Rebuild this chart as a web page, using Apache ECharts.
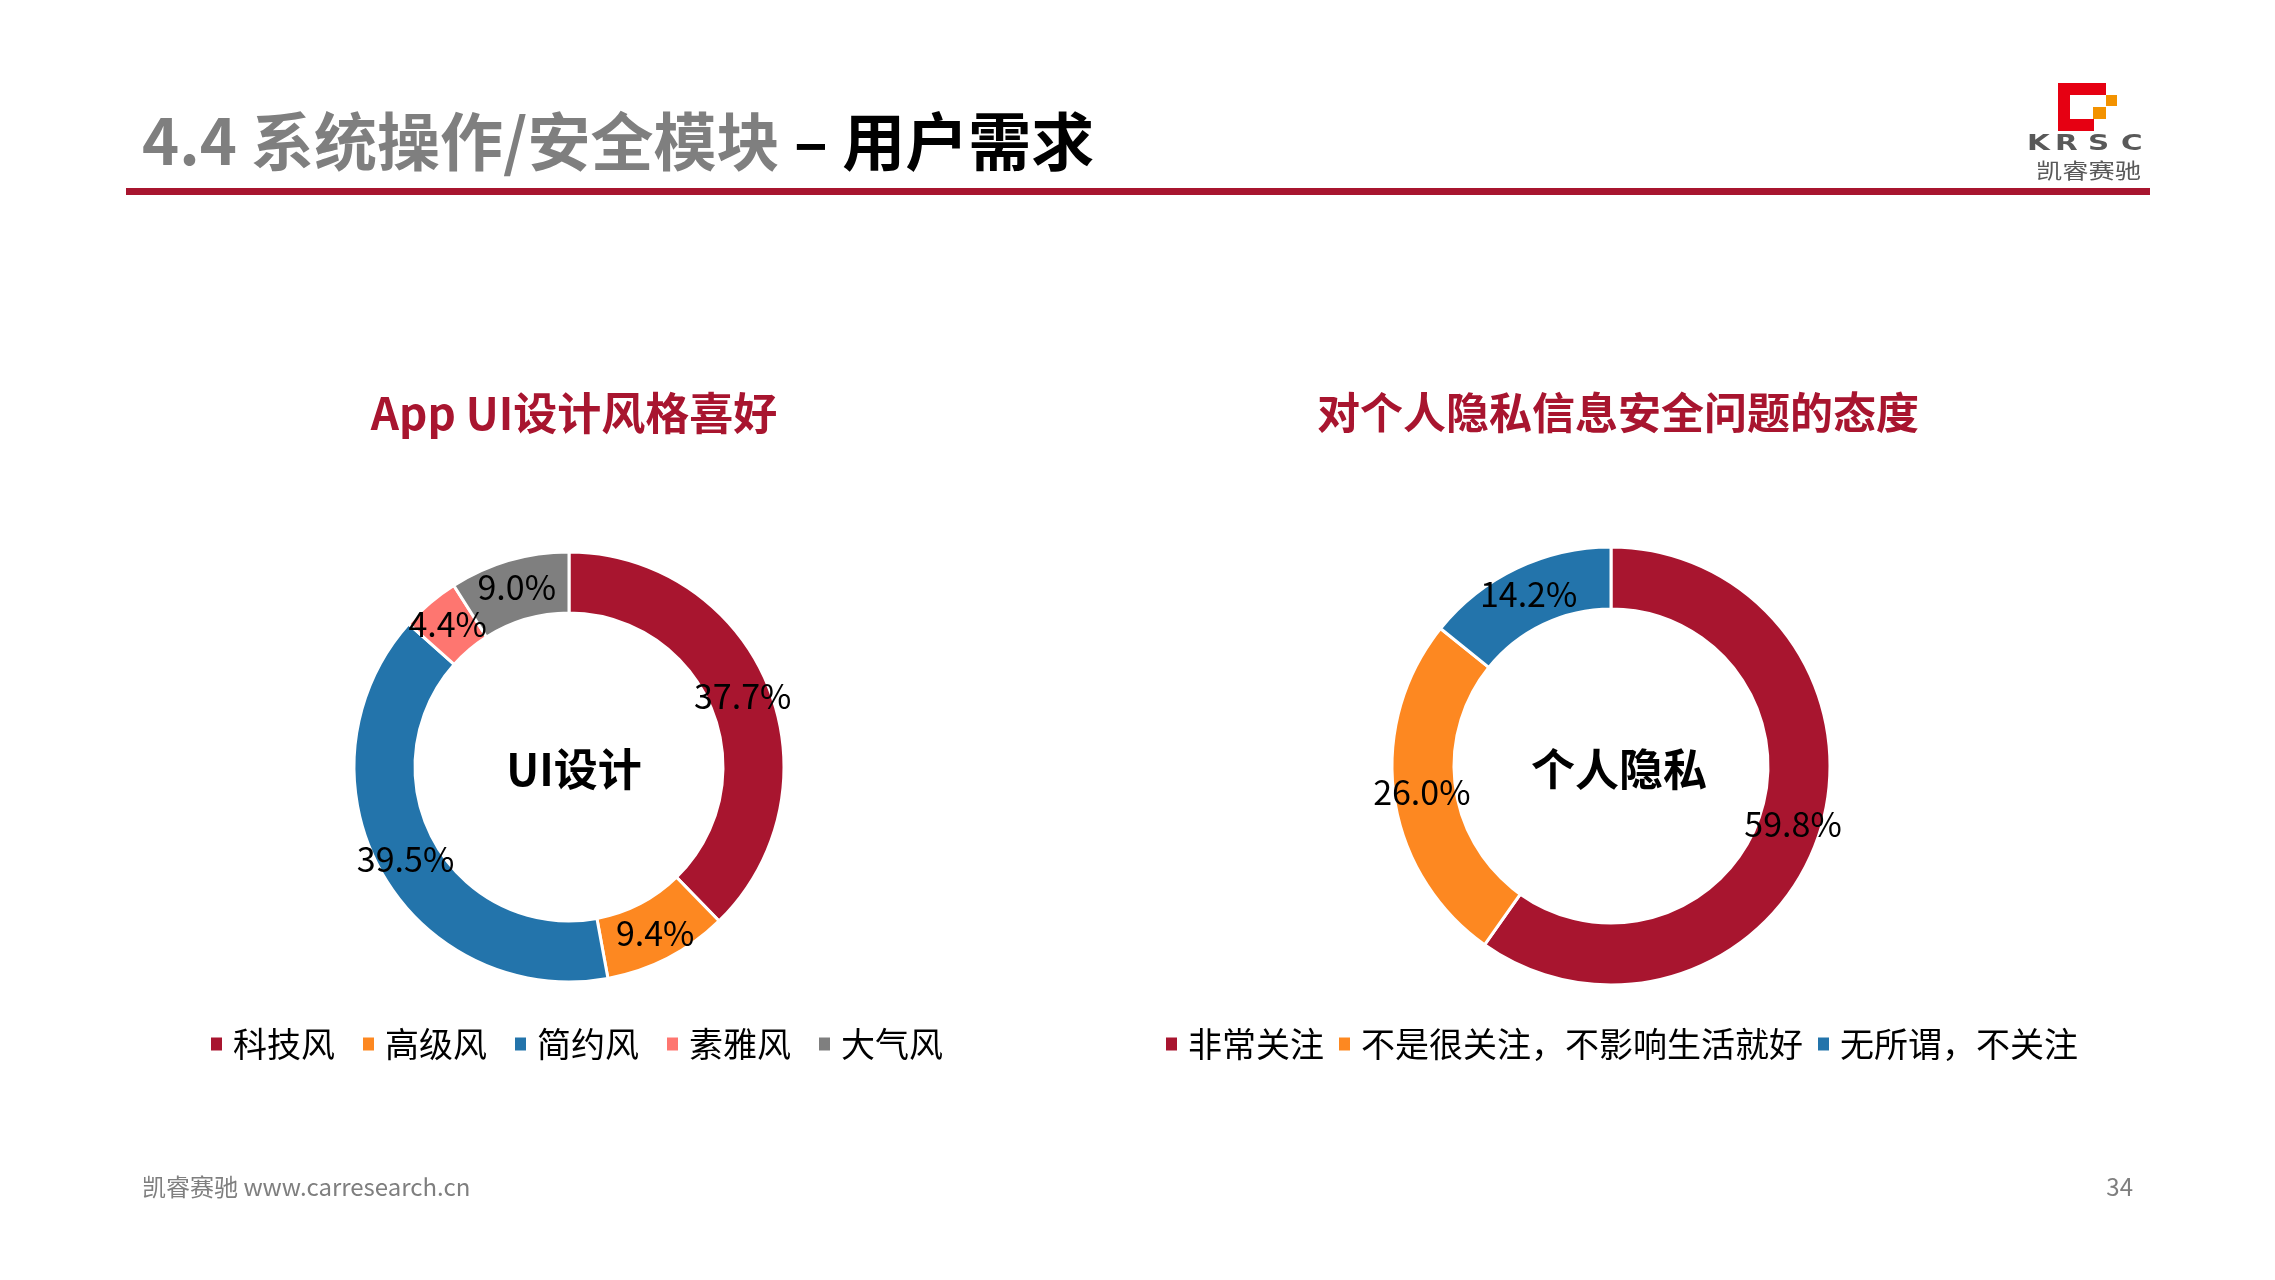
<!DOCTYPE html>
<html lang="zh">
<head>
    <meta charset="UTF-8">
    <title>4.4 系统操作/安全模块 – 用户需求</title>
    <script src="https://cdn.jsdelivr.net/npm/echarts@6/dist/echarts.min.js"></script>
    <style>
        html, body { margin: 0; padding: 0; background: #fff; }
        #main { width: 2275px; height: 1280px; }
    </style>
</head>
<body>
<div id="main"></div>
<script type="text/javascript">
    // 左图：App UI 设计风格喜好
    var uiNames = ['科技风', '高级风', '简约风', '素雅风', '大气风'];
    var uiValues = [37.7, 9.4, 39.5, 4.4, 9.0];
    var uiColors = ['#A8152F', '#FD8821', '#2374AB', '#FE7670', '#7F7F7F'];

    // 右图：对个人隐私信息安全问题的态度
    var privacyNames = ['非常关注', '不是很关注，不影响生活就好', '无所谓，不关注'];
    var privacyValues = [59.8, 26.0, 14.2];
    var privacyColors = ['#A8152F', '#FD8821', '#2374AB'];

    var FONT = '"Noto Sans CJK SC", "Microsoft YaHei", sans-serif';
    var RED = '#A8152F';

    function toData(names, values, colors) {
        return names.map(function (n, i) {
            return {name: n, value: values[i], itemStyle: {color: colors[i]}};
        });
    }

    function ringSeries(name, center, radius, data) {
        return {
            name: name,
            type: 'pie',
            center: center,
            radius: radius,
            startAngle: 90,
            clockwise: true,
            avoidLabelOverlap: false,
            itemStyle: {borderColor: '#fff', borderWidth: 3},
            label: {
                show: true,
                position: 'inside',
                color: '#000',
                fontFamily: FONT,
                fontSize: 34,
                formatter: function (p) {
                    return p.value.toFixed(1) + '%';
                }
            },
            labelLine: {show: false},
            emphasis: {scale: false},
            data: data
        };
    }

    // logo 字母，单独摆放以拉宽字距
    var logoLetters = ['K', 'R', 'S', 'C'];
    var logoX = [2027, 2055, 2088, 2121];

    var chart = echarts.init(document.getElementById('main'));
    var graphics = [
        // 页眉标题
        {
            type: 'text', left: 142, top: 110,
            style: {
                text: '{g|4.4 系统操作/安全模块}{b| – 用户需求}',
                rich: {
                    g: {fill: '#7F7F7F', font: 'bold 63px ' + FONT},
                    b: {fill: '#000', font: 'bold 63px ' + FONT}
                }
            }
        },
        // 红色分隔线
        {type: 'rect', shape: {x: 126, y: 188, width: 2024, height: 7}, style: {fill: RED}},
        // logo
        {type: 'rect', shape: {x: 2058, y: 83, width: 48, height: 12}, style: {fill: '#E60012'}},
        {type: 'rect', shape: {x: 2058, y: 95, width: 12, height: 36}, style: {fill: '#E60012'}},
        {type: 'rect', shape: {x: 2070, y: 119, width: 24, height: 12}, style: {fill: '#E60012'}},
        {type: 'rect', shape: {x: 2106, y: 95, width: 11, height: 11}, style: {fill: '#F39200'}},
        {type: 'rect', shape: {x: 2093, y: 107, width: 13, height: 12}, style: {fill: '#F39200'}},
        {
            type: 'text', x: 2036, y: 160, scaleX: 1.25,
            style: {text: '凯睿赛驰', fill: '#595959', font: '21px ' + FONT}
        },
        // 页脚
        {
            type: 'text', left: 142, top: 1175,
            style: {text: '凯睿赛驰 www.carresearch.cn', fill: '#7F7F7F', font: '24px ' + FONT}
        },
        {
            type: 'text', right: 142, top: 1175,
            style: {text: '34', fill: '#7F7F7F', font: '24px ' + FONT}
        }
    ];
    logoLetters.forEach(function (ch, i) {
        graphics.push({
            type: 'text', x: logoX[i], y: 134, scaleX: 1.4,
            style: {text: ch, fill: '#595959', font: 'bold 21px "DejaVu Sans", sans-serif'}
        });
    });

    var legendText = {color: '#000', fontSize: 34, fontFamily: FONT, padding: [0, 0, 0, 5]};

    var option = {
        backgroundColor: '#ffffff',
        animation: false,
        title: [
            {
                text: 'App UI设计风格喜好',
                left: 569, top: 408, textAlign: 'center', textVerticalAlign: 'middle',
                textStyle: {color: RED, fontSize: 44, fontWeight: 'bold', fontFamily: FONT}
            },
            {
                text: '对个人隐私信息安全问题的态度',
                left: 1613, top: 408, textAlign: 'center', textVerticalAlign: 'middle',
                textStyle: {color: RED, fontSize: 43, fontWeight: 'bold', fontFamily: FONT}
            },
            {
                text: 'UI设计',
                left: 569, top: 764, textAlign: 'center', textVerticalAlign: 'middle',
                textStyle: {color: '#000', fontSize: 44, fontWeight: 'bold', fontFamily: FONT}
            },
            {
                text: '个人隐私',
                left: 1614, top: 764, textAlign: 'center', textVerticalAlign: 'middle',
                textStyle: {color: '#000', fontSize: 44, fontWeight: 'bold', fontFamily: FONT}
            }
        ],
        legend: [
            {
                data: uiNames,
                left: 204, top: 1022,
                icon: 'rect', itemWidth: 13, itemHeight: 15, itemGap: 26,
                selectedMode: false,
                textStyle: legendText
            },
            {
                data: privacyNames,
                left: 1159, top: 1022,
                icon: 'rect', itemWidth: 13, itemHeight: 15, itemGap: 13,
                selectedMode: false,
                textStyle: legendText
            }
        ],
        graphic: graphics,
        series: [
            ringSeries('App UI设计风格喜好', [569, 767], [154, 215], toData(uiNames, uiValues, uiColors)),
            ringSeries('对个人隐私信息安全问题的态度', [1611, 766], [157, 219], toData(privacyNames, privacyValues, privacyColors))
        ]
    };
    chart.setOption(option);
</script>
</body>
</html>
